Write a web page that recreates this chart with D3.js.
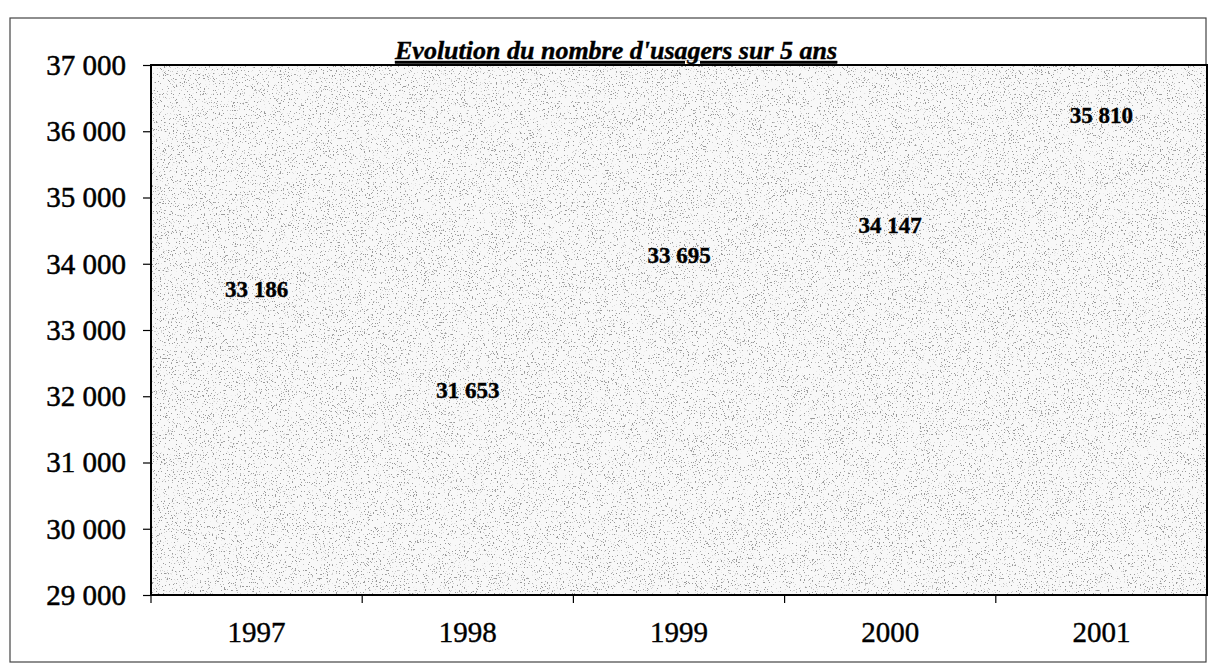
<!DOCTYPE html>
<html>
<head>
<meta charset="utf-8">
<script src="https://cdn.jsdelivr.net/npm/d3@7"></script>
<style>
	body { margin: 0; background: #fff; }
	svg { display: block; }
</style>
</head>
<body>
<svg class="chart-container" width="1209" height="664"></svg>
<script>
// data
const years = ['1997', '1998', '1999', '2000', '2001'];
const usagers = [33186, 31653, 33695, 34147, 35810];
const yTicks = [29000, 30000, 31000, 32000, 33000, 34000, 35000, 36000, 37000];
const chartTitle = "Evolution du nombre d'usagers sur 5 ans";

const serif = "'Liberation Serif', 'Times New Roman', serif";

// margin conventions (plot area inside the outer frame)
const margin = { top: 65, right: 2, bottom: 69, left: 151 };
const constant = {
	width: 1209 - margin.left - margin.right,
	height: 664 - margin.top - margin.bottom,
};
constant.x = d3.scaleBand().domain(years).range([0, constant.width]).padding(0);
constant.y = d3.scaleLinear().domain([29000, 37000]).range([constant.height, 0]);

const fr = d3.formatLocale({ decimal: ',', thousands: ' ', grouping: [3], currency: ['', ''] });
const fmt = fr.format(',d');

const svg = d3.select('.chart-container');

// speckle texture of the scanned grey fill
const defs = svg.append('defs');
const speckle = defs.append('filter').attr('id', 'speckle')
	.attr('x', 0).attr('y', 0).attr('width', 1).attr('height', 1);
speckle.append('feTurbulence')
	.attr('type', 'fractalNoise')
	.attr('baseFrequency', 0.75)
	.attr('numOctaves', 2)
	.attr('seed', 7)
	.attr('result', 'noise');
speckle.append('feColorMatrix')
	.attr('in', 'noise')
	.attr('type', 'matrix')
	.attr('values', '0 0 0 0 0.32  0 0 0 0 0.32  0 0 0 0 0.32  14 0 0 0 -8.9');

// outer chart frame
svg.append('rect')
	.attr('x', 10).attr('y', 18)
	.attr('width', 1196).attr('height', 644)
	.attr('fill', 'none')
	.attr('stroke', '#444')
	.attr('stroke-width', 1.2);

const plot = svg.append('g').attr('class', 'plot-area').attr('transform', 'translate(' + margin.left + ',' + margin.top + ')');

plot.append('rect')
	.attr('width', constant.width).attr('height', constant.height)
	.attr('fill', '#f8f8f8');
plot.append('rect')
	.attr('width', constant.width).attr('height', constant.height)
	.attr('filter', 'url(#speckle)');

// y axis
const yAxis = plot.append('g')
	.attr('class', 'y-axis')
	.call(d3.axisLeft(constant.y).tickValues(yTicks).tickFormat(fmt).tickSize(8).tickPadding(17));
yAxis.attr('font-family', null);
yAxis.select('.domain').remove();
yAxis.selectAll('line').attr('stroke', '#000').attr('stroke-width', 1.2);
yAxis.selectAll('text')
	.style('font-family', serif)
	.style('font-size', '29px')
	.attr('fill', '#000')
	.attr('stroke', '#000')
	.attr('stroke-width', 0.5);

// x axis labels (centered in each band)
const xAxis = plot.append('g')
	.attr('class', 'x-axis')
	.attr('transform', 'translate(0,' + constant.height + ')')
	.call(d3.axisBottom(constant.x).tickSize(0).tickPadding(26));
xAxis.attr('font-family', null);
xAxis.select('.domain').remove();
xAxis.selectAll('text')
	.style('font-family', serif)
	.style('font-size', '29px')
	.attr('fill', '#000')
	.attr('stroke', '#000')
	.attr('stroke-width', 0.4);

// category separator ticks
plot.append('g')
	.attr('class', 'x-ticks')
	.selectAll('line')
	.data(years)
	.enter()
	.append('line')
	.attr('x1', function(d) { return constant.x(d); })
	.attr('x2', function(d) { return constant.x(d); })
	.attr('y1', constant.height)
	.attr('y2', constant.height + 8)
	.attr('stroke', '#000')
	.attr('stroke-width', 1.2);

// plot border
plot.append('rect')
	.attr('width', constant.width).attr('height', constant.height)
	.attr('fill', 'none')
	.attr('stroke', '#000')
	.attr('stroke-width', 2);

// value labels above each point
plot.append('g')
	.attr('class', 'labels')
	.selectAll('text')
	.data(usagers)
	.enter()
	.append('text')
	.attr('x', function(d, i) { return constant.x(years[i]) + constant.x.bandwidth() / 2; })
	.attr('y', function(d) { return constant.y(d) - 21; })
	.attr('text-anchor', 'middle')
	.style('font-family', serif)
	.style('font-weight', 'bold')
	.style('font-size', '23px')
	.attr('fill', '#000')
	.attr('stroke', '#000')
	.attr('stroke-width', 0.4)
	.text(function(d) { return fmt(d); });

// title sits on the top border
svg.append('text')
	.attr('x', 395)
	.attr('y', 59)
	.style('font-family', serif)
	.style('font-weight', 'bold')
	.style('font-style', 'italic')
	.style('text-decoration', 'underline')
	.style('font-size', '26px')
	.attr('fill', '#000')
	.attr('stroke', '#000')
	.attr('stroke-width', 0.4)
	.text(chartTitle);
</script>
</body>
</html>
